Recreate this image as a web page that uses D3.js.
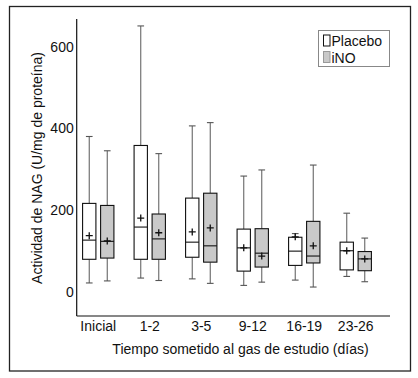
<!DOCTYPE html>
<html>
<head>
<meta charset="utf-8">
<script src="https://cdn.jsdelivr.net/npm/d3@7"></script>
<style>
  body { margin: 0; background: #fff; }
  svg text { font-family: "Liberation Sans", Arial, sans-serif; fill: #111; }
</style>
</head>
<body>
<div id="chart"></div>
<script>
// categories and series
const periods = ["Inicial", "1-2", "3-5", "9-12", "16-19", "23-26"];
const groups = ["Placebo", "iNO"];
const yTicks = [0, 200, 400, 600];

// box stats per period: [whiskerLow, q1, median, q3, whiskerHigh, mean]
const placeboStats = [
    [21, 79, 126, 216, 380, 137],
    [33, 79, 158, 358, 651, 180],
    [31, 84, 121, 229, 406, 146],
    [15, 50, 107, 153, 283, 107],
    [28, 64, 99, 133, 142, 134],
    [37, 53, 100, 121, 192, 100]
];
const inoStats = [
    [26, 82, 123, 211, 345, 124],
    [27, 79, 129, 190, 338, 144],
    [20, 72, 112, 241, 414, 156],
    [23, 60, 94, 154, 298, 87],
    [11, 70, 87, 172, 310, 112],
    [24, 51, 80, 98, 131, 80]
];

const fills = {"Placebo": "#ffffff", "iNO": "#c9c9c9"};

let W = 418, H = 378;
let svg = d3.select("#chart").append("svg")
    .attr("width", W)
    .attr("height", H);

// outer frame
svg.append("rect")
    .attr("x", 9.5).attr("y", 6.5)
    .attr("width", 401).attr("height", 364.5)
    .attr("fill", "none")
    .attr("stroke", "#222")
    .attr("stroke-width", 1.3);

let y = d3.scaleLinear()
    .domain([-60, 668])
    .range([316, 19]);

let x = d3.scaleBand()
    .domain(periods)
    .range([72.5, 381.5])
    .padding(0);

let xInner = d3.scaleBand()
    .domain(groups)
    .range([0, x.bandwidth()])
    .paddingInner(0.26)
    .paddingOuter(0.56);

// axes lines
svg.append("line")
    .attr("x1", 76.7).attr("x2", 76.7)
    .attr("y1", 19).attr("y2", 316)
    .attr("stroke", "#111").attr("stroke-width", 1.2);
svg.append("line")
    .attr("x1", 76.7).attr("x2", 390)
    .attr("y1", 316).attr("y2", 316)
    .attr("stroke", "#111").attr("stroke-width", 1.2);

// y tick labels
let yAxis = d3.axisLeft(y).tickValues(yTicks).tickSize(0).tickPadding(3);
let yg = svg.append("g")
    .attr("transform", "translate(76.7,0)")
    .call(yAxis);
yg.select(".domain").remove();
yg.selectAll("text")
    .attr("font-size", 14)
    .attr("font-family", "Liberation Sans, Arial, sans-serif")
    .attr("fill", "#111");

// x tick labels
let xAxis = d3.axisBottom(x).tickSize(0).tickPadding(0);
let xg = svg.append("g")
    .attr("transform", "translate(0,321)")
    .call(xAxis);
xg.select(".domain").remove();
xg.selectAll("text")
    .attr("font-size", 14)
    .attr("font-family", "Liberation Sans, Arial, sans-serif")
    .attr("fill", "#111");

// axis titles
svg.append("text")
    .attr("x", 240.5).attr("y", 354)
    .attr("text-anchor", "middle")
    .attr("font-size", 14)
    .text("Tiempo sometido al gas de estudio (días)");

svg.append("text")
    .attr("transform", "translate(42,168) rotate(-90)")
    .attr("text-anchor", "middle")
    .attr("font-size", 14)
    .text("Actividad de NAG (U/mg de proteína)");

// build box rows
let rows = [];
periods.forEach((p, i) => {
    [["Placebo", placeboStats[i]], ["iNO", inoStats[i]]].forEach(([g, s]) => {
        rows.push({period: p, group: g, lo: s[0], q1: s[1], med: s[2], q3: s[3], hi: s[4], mean: s[5]});
    });
});

let boxW = xInner.bandwidth();
let boxes = svg.append("g").attr("class", "boxes")
    .selectAll("g")
    .data(rows)
    .enter()
    .append("g")
    .attr("transform", d => "translate(" + (x(d.period) + xInner(d.group)) + ",0)");

let cx = boxW / 2;
let capW = boxW / 2;

// whiskers
boxes.append("line")
    .attr("x1", cx).attr("x2", cx)
    .attr("y1", d => y(d.hi)).attr("y2", d => y(d.q3))
    .attr("stroke", "#666").attr("stroke-width", 1.1);
boxes.append("line")
    .attr("x1", cx).attr("x2", cx)
    .attr("y1", d => y(d.q1)).attr("y2", d => y(d.lo))
    .attr("stroke", "#666").attr("stroke-width", 1.1);
boxes.append("line")
    .attr("x1", cx - capW / 2).attr("x2", cx + capW / 2)
    .attr("y1", d => y(d.hi)).attr("y2", d => y(d.hi))
    .attr("stroke", "#555").attr("stroke-width", 1.1);
boxes.append("line")
    .attr("x1", cx - capW / 2).attr("x2", cx + capW / 2)
    .attr("y1", d => y(d.lo)).attr("y2", d => y(d.lo))
    .attr("stroke", "#555").attr("stroke-width", 1.1);

// boxes
boxes.append("rect")
    .attr("x", 0)
    .attr("y", d => y(d.q3))
    .attr("width", boxW)
    .attr("height", d => y(d.q1) - y(d.q3))
    .attr("fill", d => fills[d.group])
    .attr("stroke", "#111")
    .attr("stroke-width", 1.1);

// median
boxes.append("line")
    .attr("x1", 0).attr("x2", boxW)
    .attr("y1", d => y(d.med)).attr("y2", d => y(d.med))
    .attr("stroke", "#111").attr("stroke-width", 1.1);

// mean markers (+)
let plus = 3.5;
boxes.append("path")
    .attr("d", d => {
        let my = y(d.mean);
        return "M" + (cx - plus) + "," + my + "H" + (cx + plus) +
            "M" + cx + "," + (my - plus) + "V" + (my + plus);
    })
    .attr("stroke", "#111").attr("stroke-width", 1.3)
    .attr("fill", "none");

// legend
let legend = svg.append("g").attr("transform", "translate(318.5,30.5)");
legend.append("rect")
    .attr("width", 71).attr("height", 36)
    .attr("fill", "#fff")
    .attr("stroke", "#888").attr("stroke-width", 1);
groups.forEach((g, i) => {
    legend.append("rect")
        .attr("x", 5).attr("y", 4.5 + i * 16.5)
        .attr("width", 6.5).attr("height", 11)
        .attr("fill", fills[g])
        .attr("stroke", g === "iNO" ? "#999" : "#111")
        .attr("stroke-width", 1);
    legend.append("text")
        .attr("x", 13).attr("y", 15.5 + i * 16.5)
        .attr("font-size", 14)
        .text(g);
});
</script>
</body>
</html>
